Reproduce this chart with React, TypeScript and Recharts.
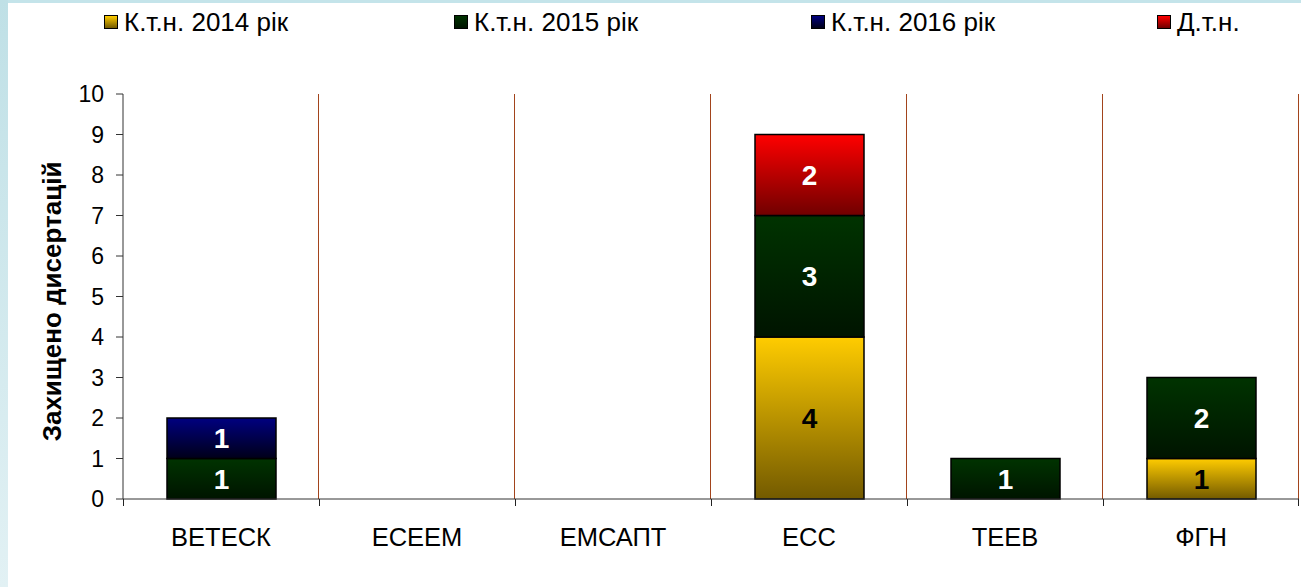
import React from 'react';
import {
  Bar,
  BarChart,
  CartesianGrid,
  LabelList,
  Legend,
  XAxis,
  YAxis,
} from 'recharts';

const categories = ['ВЕТЕСК', 'ЕСЕЕМ', 'ЕМСАПТ', 'ЕСС', 'ТЕЕВ', 'ФГН'];
const ktn2014 = [0, 0, 0, 4, 0, 1];
const ktn2015 = [1, 0, 0, 3, 1, 2];
const ktn2016 = [1, 0, 0, 0, 0, 0];
const dtn = [0, 0, 0, 2, 0, 0];
const yTicks = [0, 1, 2, 3, 4, 5, 6, 7, 8, 9, 10];

const FONT = '"Liberation Sans", Arial, sans-serif';
const GRID = '#a2441c';

const series = [
  { key: 'k2014', name: 'К.т.н. 2014 рік', grad: 'gYellow', top: '#ffcc00', bottom: '#735a00', label: '#000' },
  { key: 'k2015', name: 'К.т.н. 2015 рік', grad: 'gGreen', top: '#003300', bottom: '#001400', label: '#fff' },
  { key: 'k2016', name: 'К.т.н. 2016 рік', grad: 'gBlue', top: '#000080', bottom: '#000018', label: '#fff' },
  { key: 'dtn', name: 'Д.т.н.', grad: 'gRed', top: '#ff0000', bottom: '#700000', label: '#fff' },
];

const data = categories.map((name, i) => ({
  name,
  k2014: ktn2014[i] || null,
  k2015: ktn2015[i] || null,
  k2016: ktn2016[i] || null,
  dtn: dtn[i] || null,
}));

function LegendBox() {
  const widths = [350, 357, 346, 140];
  return (
    <div
      style={{
        display: 'flex',
        alignItems: 'center',
        height: 40,
        paddingLeft: 104,
        fontFamily: FONT,
        fontSize: 26,
        color: '#000',
      }}
    >
      {series.map((s, i) => (
        <div key={s.key} style={{ width: widths[i], display: 'flex', alignItems: 'center' }}>
          <span
            style={{
              width: 14,
              height: 14,
              border: '1px solid #000',
              background: `linear-gradient(${s.top}, ${s.bottom})`,
              marginRight: 6,
              boxSizing: 'border-box',
              display: 'inline-block',
            }}
          />
          <span>{s.name}</span>
        </div>
      ))}
    </div>
  );
}

function CategoryTick(props: any) {
  const { x, y, payload, index, width, visibleTicksCount } = props;
  const bw = width && visibleTicksCount ? width / visibleTicksCount : 196;
  return (
    <g>
      <line x1={x - bw / 2 + 0.5} x2={x - bw / 2 + 0.5} y1={y} y2={y + 7} stroke="#222" />
      {index === categories.length - 1 && (
        <line x1={x + bw / 2 - 0.5} x2={x + bw / 2 - 0.5} y1={y} y2={y + 7} stroke="#222" />
      )}
      <text x={x} y={y + 47} textAnchor="middle" fontFamily={FONT} fontSize={25.5} fill="#000">
        {payload.value}
      </text>
    </g>
  );
}

export default function App() {
  return (
    <div style={{ position: 'fixed', left: 0, top: 0, width: 1301, height: 587, background: '#fff', overflow: 'hidden' }}>
      <div style={{ position: 'absolute', left: 0, top: 0, width: 1301, height: 3, background: '#c4e4ea' }} />
      <div
        style={{
          position: 'absolute',
          left: 0,
          top: 0,
          width: 8,
          height: 587,
          background: 'linear-gradient(#bfe0e6, #e2f1f4)',
        }}
      />
      <BarChart
        width={1301}
        height={587}
        data={data}
        margin={{ top: 54, right: 2, left: 0, bottom: 0 }}
        barSize={109}
        style={{ position: 'absolute', left: 0, top: 0 }}
      >
        <defs>
          {series.map((s) => (
            <linearGradient key={s.grad} id={s.grad} x1="0" y1="0" x2="0" y2="1">
              <stop offset="0%" stopColor={s.top} />
              <stop offset="100%" stopColor={s.bottom} />
            </linearGradient>
          ))}
        </defs>
        <CartesianGrid
          horizontal={false}
          stroke={GRID}
          strokeWidth={1}
          verticalCoordinatesGenerator={({ offset }: any) => {
            const bw = offset.width / categories.length;
            return categories.map((_, i) => Math.floor(offset.left + bw * (i + 1)) - 0.5);
          }}
        />
        <XAxis
          dataKey="name"
          height={88}
          tickSize={0}
          tickMargin={0}
          tickLine={false}
          axisLine={{ stroke: '#333' }}
          tick={<CategoryTick />}
          interval={0}
        />
        <YAxis
          width={123}
          domain={[0, 10]}
          ticks={yTicks}
          interval={0}
          tickSize={7}
          tickMargin={12}
          axisLine={{ stroke: '#333' }}
          tickLine={{ stroke: '#333' }}
          tick={{ fontFamily: FONT, fontSize: 23, fill: '#000' }}
          label={{
            value: 'Захищено дисертацій',
            angle: -90,
            position: 'insideLeft',
            dx: 47,
            dy: 5,
            style: { fontFamily: FONT, fontSize: 26, fontWeight: 'bold', fill: '#000', textAnchor: 'middle' },
          }}
        />
        <Legend
          verticalAlign="top"
          content={<LegendBox />}
          wrapperStyle={{ position: 'absolute', top: 2, left: 0, width: 1301 }}
        />
        {series.map((s) => (
          <Bar
            key={s.key}
            dataKey={s.key}
            name={s.name}
            stackId="a"
            fill={`url(#${s.grad})`}
            stroke="#000"
            strokeWidth={1.5}
            isAnimationActive={false}
          >
            <LabelList
              dataKey={s.key}
              position="center"
              fill={s.label}
              style={{ fontFamily: FONT, fontSize: 28, fontWeight: 'bold' }}
            />
          </Bar>
        ))}
      </BarChart>
    </div>
  );
}
